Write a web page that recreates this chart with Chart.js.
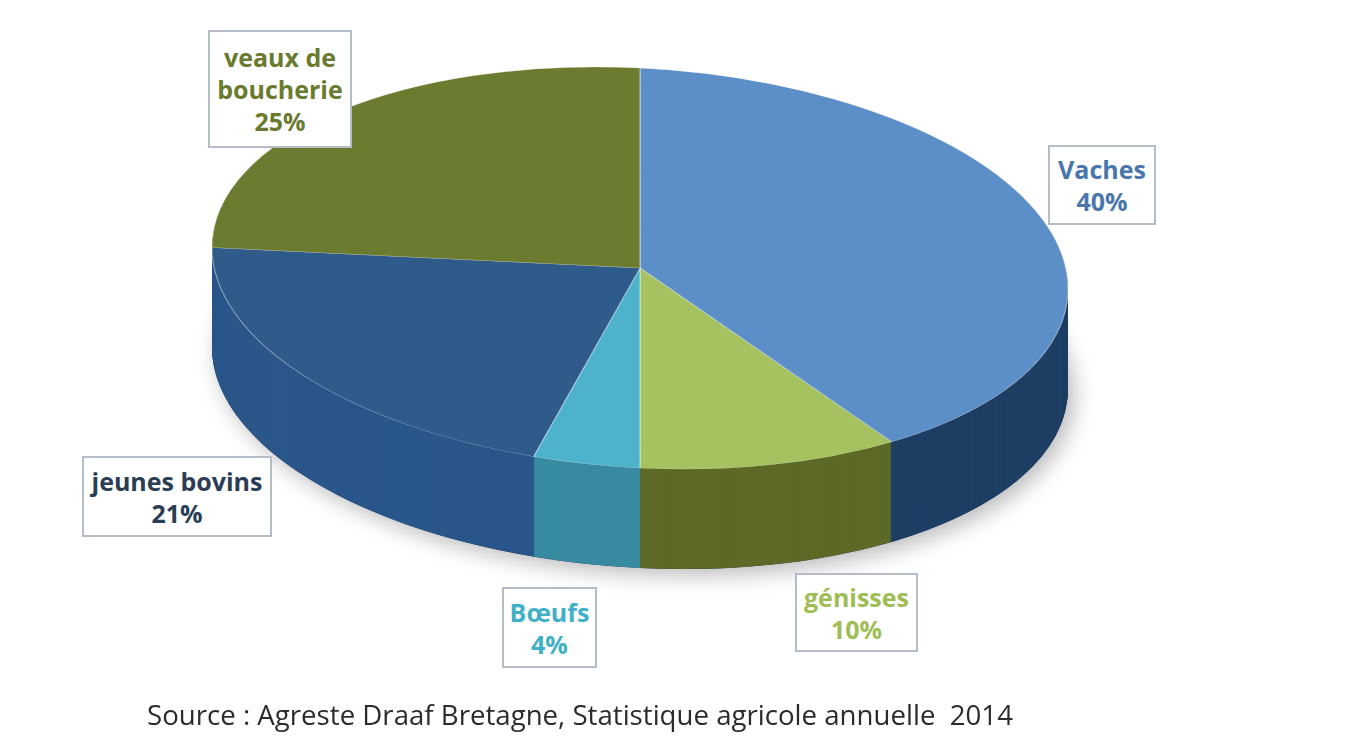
<!DOCTYPE html>
<html><head><meta charset="utf-8">
<script src="https://cdn.jsdelivr.net/npm/chart.js@4.4.1/dist/chart.umd.min.js"></script>
<style>
html,body{margin:0;padding:0;background:#fff;}
#wrap{position:relative;width:1361px;height:747px;overflow:hidden;}
canvas{position:absolute;left:0;top:0;}
.lbl{position:absolute;box-sizing:border-box;border:2px solid #b4bcc6;background:#fff;
 font-family:"Open Sans","Noto Sans",sans-serif;font-weight:bold;font-size:25px;line-height:32px;text-align:center;
 display:flex;flex-direction:column;justify-content:center;}
#src{position:absolute;left:147px;top:697px;font-family:"Open Sans","Noto Sans",sans-serif;font-size:23px;color:#2b2b2b;white-space:pre;line-height:34px;}
</style></head>
<body><div id="wrap"><canvas id="c" width="1361" height="747"></canvas><span id="src"></span></div>
<script>
const categories = ['Vaches', 'génisses', 'Bœufs', 'jeunes bovins', 'veaux de boucherie'];
const labelLines = [['Vaches'], ['génisses'], ['Bœufs'], ['jeunes bovins'], ['veaux de', 'boucherie']];
const values = [40, 10, 4, 21, 25];
const topColors = ['#5c8fc8', '#a6c15f', '#4db2cc', '#2f5b8b', '#6b7c30'];
const sideColors = ['#1e3e64', '#5d6a27', '#388ba1', '#2a568a', '#4f5c20'];
const textColors = ['#4876ad', '#9fbd55', '#3fb0c8', '#2a3d55', '#6a7a2e'];
const sourceText = 'Source : Agreste Draaf Bretagne, Statistique agricole annuelle  2014';

// layout (positions only)
const boxes = [
  {l:1048,t:145,w:108,h:80},
  {l:795,t:573,w:123,h:79},
  {l:502,t:587,w:95,h:81},
  {l:82,t:456,w:190,h:81},
  {l:208,t:30,w:144,h:118}
];
const CX = 640, CY = 268, RX = 428, RY = 200, DEPTH = 100, SHEAR = 0.048, SRC_WIDTH = 866;

const wrap = document.getElementById('wrap');
const total = values.reduce((a,b)=>a+b,0);
boxes.forEach((b,i)=>{
  const d = document.createElement('div');
  d.className = 'lbl';
  d.style.left=b.l+'px'; d.style.top=b.t+'px'; d.style.width=b.w+'px'; d.style.height=b.h+'px';
  d.style.color = textColors[i];
  const lines = labelLines[i].concat([Math.round(values[i]/total*100)+'%']);
  lines.forEach(s=>{const sp=document.createElement('div'); sp.textContent=s; d.appendChild(sp);});
  wrap.appendChild(d);
});
const src = document.getElementById('src');
src.textContent = sourceText;
const w0 = src.getBoundingClientRect().width;
src.style.fontSize = (23 * SRC_WIDTH / w0).toFixed(2) + 'px';

function slicePath(ctx, arc){
  ctx.beginPath();
  ctx.moveTo(arc.x, arc.y);
  ctx.arc(arc.x, arc.y, arc.outerRadius, arc.startAngle, arc.endAngle);
  ctx.closePath();
}
function place(ctx, a0, dy){
  const cx=a0.x, cy=a0.y, r=a0.outerRadius;
  ctx.translate(CX, CY+dy);
  ctx.transform(1, SHEAR, 0, 1, 0, 0);
  ctx.scale(RX/r, RY/r);
  ctx.translate(-cx,-cy);
}
const pie3d = {
  id:'pie3d',
  beforeDatasetsDraw(chart){
    const ctx = chart.ctx;
    const meta = chart.getDatasetMeta(0);
    const a0 = meta.data[0];
    // soft shadow under the disc
    ctx.save();
    place(ctx, a0, DEPTH);
    ctx.shadowColor='rgba(0,0,0,0.28)'; ctx.shadowBlur=22; ctx.shadowOffsetX=6; ctx.shadowOffsetY=6;
    ctx.beginPath(); ctx.arc(a0.x,a0.y,a0.outerRadius,0,Math.PI*2); ctx.fillStyle='#1e3e64'; ctx.fill();
    ctx.restore();
    // side walls
    for(let d=DEPTH; d>0; d-=1){
      ctx.save();
      place(ctx, a0, d);
      meta.data.forEach((arc,i)=>{ slicePath(ctx, arc); ctx.fillStyle=sideColors[i]; ctx.fill(); });
      ctx.restore();
    }
    ctx.save();
    place(ctx, a0, 0);
  },
  afterDatasetsDraw(chart){ chart.ctx.restore(); }
};

new Chart(document.getElementById('c'), {
  type:'pie',
  data:{labels:categories, datasets:[{data:values, backgroundColor:topColors, borderColor:'rgba(255,255,255,0.45)', borderWidth:1}]},
  options:{responsive:false, animation:false, events:[],
    layout:{padding:0},
    plugins:{legend:{display:false}, tooltip:{enabled:false}}},
  plugins:[pie3d]
});
</script></body></html>
